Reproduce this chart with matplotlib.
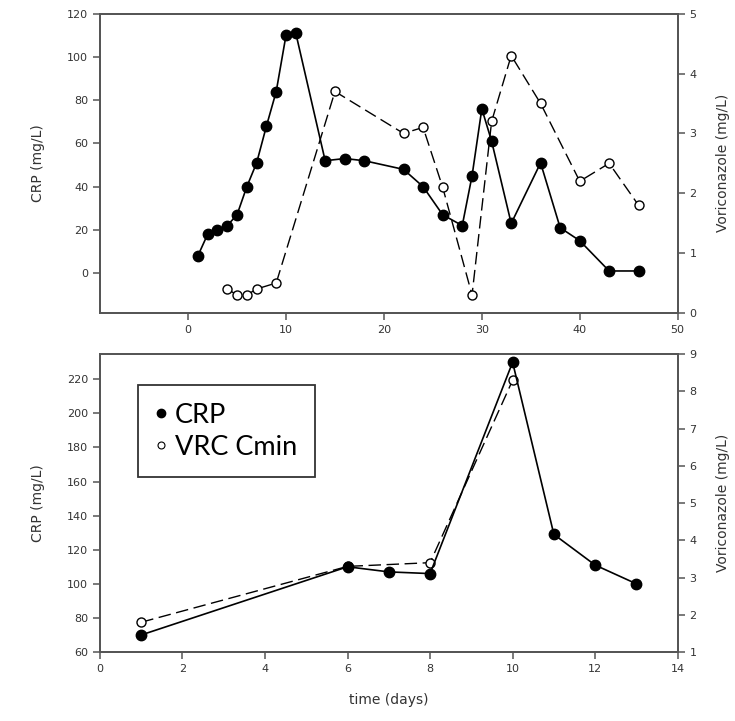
import numpy as np
import matplotlib.pyplot as plt
from matplotlib.lines import Line2D

# top panel: case 1
crp_days_1 = [1, 2, 3, 4, 5, 6, 7, 8, 9, 10, 11, 14, 16, 18, 22, 24, 26, 28,
              29, 30, 31, 33, 36, 38, 40, 43, 46]
crp_vals_1 = [8, 18, 20, 22, 27, 40, 51, 68, 84, 110, 111, 52, 53, 52, 48, 40,
              27, 22, 45, 76, 61, 23, 51, 21, 15, 1, 1]
vrc_days_1 = [4, 5, 6, 7, 9, 15, 22, 24, 26, 29, 31, 33, 36, 40, 43, 46]
vrc_vals_1 = [0.4, 0.3, 0.3, 0.4, 0.5, 3.7, 3.0, 3.1, 2.1, 0.3, 3.2, 4.3, 3.5,
              2.2, 2.5, 1.8]

# bottom panel: case 2
crp_days_2 = [1, 6, 7, 8, 10, 11, 12, 13]
crp_vals_2 = [70, 110, 107, 106, 230, 129, 111, 100]
vrc_days_2 = [1, 6, 8, 10]
vrc_vals_2 = [1.8, 3.3, 3.4, 8.3]

GREY = '#555555'
TXT = '#333333'


def style(ax):
    for s in ax.spines.values():
        s.set_color(GREY)
        s.set_linewidth(1.3)
    ax.tick_params(direction='out', length=5, width=1.1, color=GREY,
                   labelsize=8, labelcolor=TXT)


def panel(ax, cd, cv, vd, vv, xlim, xticks, ylim, yticks, rlim, rticks):
    ax2 = ax.twinx()
    ax2.plot(vd, vv, color='black', lw=1.0, dashes=(9, 4),
             marker='o', ms=6.5, mfc='white', mec='black', mew=1.0, zorder=3)
    ax.plot(cd, cv, color='black', lw=1.2, marker='o', ms=7.5,
            mfc='black', mec='black', zorder=3)
    ax.set_zorder(ax2.get_zorder() + 1)
    ax.patch.set_visible(False)
    ax.set_xlim(*xlim)
    ax.set_xticks(xticks)
    ax.set_ylim(*ylim)
    ax.set_yticks(yticks)
    ax2.set_ylim(*rlim)
    ax2.set_yticks(rticks)
    style(ax)
    style(ax2)
    ax.set_ylabel('CRP (mg/L)', fontsize=10, color=TXT, labelpad=16)
    ax2.set_ylabel('Voriconazole (mg/L)', fontsize=10, color=TXT,
                   rotation=90, labelpad=14)
    return ax2


fig = plt.figure(figsize=(7.35, 7.21), dpi=100)
ax_top = fig.add_axes([0.136, 0.566, 0.786, 0.415])
ax_bot = fig.add_axes([0.136, 0.0957, 0.786, 0.413])

panel(ax_top, crp_days_1, crp_vals_1, vrc_days_1, vrc_vals_1,
      (-9, 50), [0, 10, 20, 30, 40, 50], (-18.4, 120), range(0, 121, 20),
      (0, 5), range(0, 6))
panel(ax_bot, crp_days_2, crp_vals_2, vrc_days_2, vrc_vals_2,
      (0, 14), range(0, 15, 2), (60, 234.7), range(60, 221, 20),
      (1, 9), range(1, 10))

ax_bot.set_xlabel('time (days)', fontsize=10, color=TXT, labelpad=14)

handles = [Line2D([], [], ls='none', marker='o', ms=6, mfc='black', mec='black'),
           Line2D([], [], ls='none', marker='o', ms=5, mfc='white', mec='black',
                  mew=0.8)]
leg = ax_bot.legend(handles, ['CRP', 'VRC Cmin'], loc='upper left',
                    bbox_to_anchor=(0.066, 0.896), prop={'family': 'Lato', 'size': 19.5},
                    frameon=True, fancybox=False, handlelength=0.4,
                    handletextpad=0.3, borderpad=0.65, labelspacing=0.25,
                    borderaxespad=0)
leg.get_frame().set_edgecolor('black')
leg.get_frame().set_linewidth(1.3)

fig.savefig('out.png', dpi=100)
